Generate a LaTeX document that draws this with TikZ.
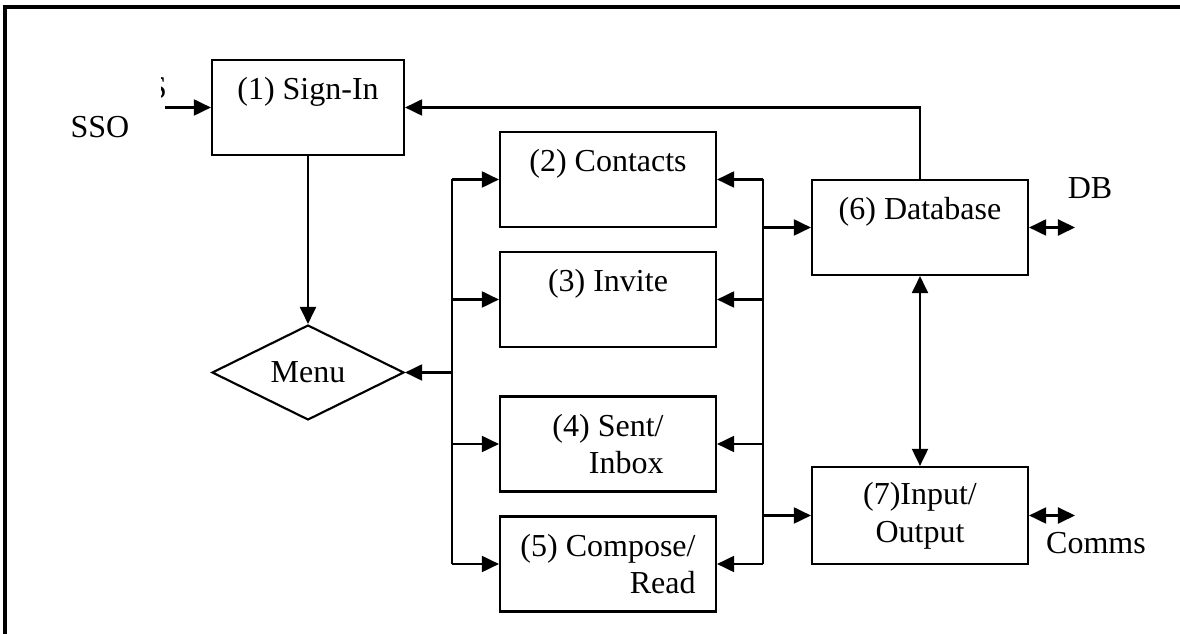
\documentclass[tikz,border=0pt]{standalone}
\usepackage{fontspec}
\setmainfont{Liberation Serif}
\usetikzlibrary{arrows.meta,shapes.geometric}
\begin{document}
\begin{tikzpicture}[x=0.375pt,y=-0.375pt,line width=0.8pt,
    font=\fontsize{12}{14.2}\selectfont,
    box node/.style={draw,rectangle,minimum width=81pt,minimum height=35.6pt,align=center},
    menu node/.style={draw,diamond,shape aspect=2,inner sep=0pt,minimum width=72pt,minimum height=35.6pt},
    arr/.style={-{Triangle[length=6.4pt,width=6pt]}},
    dblarr/.style={{Triangle[length=6.4pt,width=6pt]}-{Triangle[length=6.4pt,width=6pt]}}]
  	\useasboundingbox (0,0) rectangle (1180,634);
  	\draw[line width=1.2pt] (1180,7) -- (5,7) -- (5,634);
  	
  	\node[box node,minimum width=72pt] at (308,107.5) (signin) {(1) Sign-In\\ };
  	\node[menu node] at (308,372.5) (menu) {Menu};
  	\node[box node] at (608,179.5) (contacts) {(2) Contacts\\ };
  	\node[box node] at (608,299.5) (invite) {(3) Invite\\ };
  	\node[box node,align=right] at (608,444) (sent) {(4) Sent/\\Inbox};
  	\node[box node,align=right] at (608,564) (compose) {(5) Compose/\\Read};
  	\node[box node] at (920,227.5) (database) {(6) Database\\ };
  	\node[box node,minimum height=36.4pt] at (920,515.5) (io) {(7)Input/\\Output};
  	
  	\node[] at (100,127) (sso) {SSO};
  	\node[] at (1090,188) (dblabel) {DB};
  	\node[] at (1096,543) (comms) {Comms};
  	\begin{scope}
  	  \clip (161,76) rectangle (167,100);
  	  \node[] at (158,88) (stray) {S};
  	\end{scope}
  	
  	% buses
  	\coordinate (lb1) at (452,179.5);
  	\coordinate (lb2) at (452,299.5);
  	\coordinate (lbm) at (452,372.5);
  	\coordinate (lb3) at (452,444);
  	\coordinate (lb4) at (452,564);
  	\coordinate (rb1) at (763,179.5);
  	\coordinate (rb2) at (763,299.5);
  	\coordinate (rbd) at (763,227.5);
  	\coordinate (rb3) at (763,444);
  	\coordinate (rbi) at (763,515.5);
  	\coordinate (rb4) at (763,564);
  	\coordinate (ssoin) at (165,107.5);
  	\coordinate (dbout) at (1075,227.5);
  	\coordinate (commsout) at (1075,515.5);
  	
  	\draw (lb1) -- (lb4);
  	\draw (rb1) -- (rb4);
  	
  	\path[arr]
  	(ssoin) edge (signin.west)
  	(signin.south) edge (menu.north)
  	(lbm) edge (menu.east)
  	(lb1) edge (contacts.west)
  	(lb2) edge (invite.west)
  	(lb3) edge (sent.west)
  	(lb4) edge (compose.west)
  	(rb1) edge (contacts.east)
  	(rb2) edge (invite.east)
  	(rb3) edge (sent.east)
  	(rb4) edge (compose.east)
  	(rbd) edge (database.west)
  	(rbi) edge (io.west);
  	\draw[arr] (database.north) |- (signin.east);
  	
  	\path[dblarr]
  	(database.east) edge (dbout)
  	(io.east) edge (commsout)
  	(database.south) edge (io.north);
\end{tikzpicture}
\end{document}
